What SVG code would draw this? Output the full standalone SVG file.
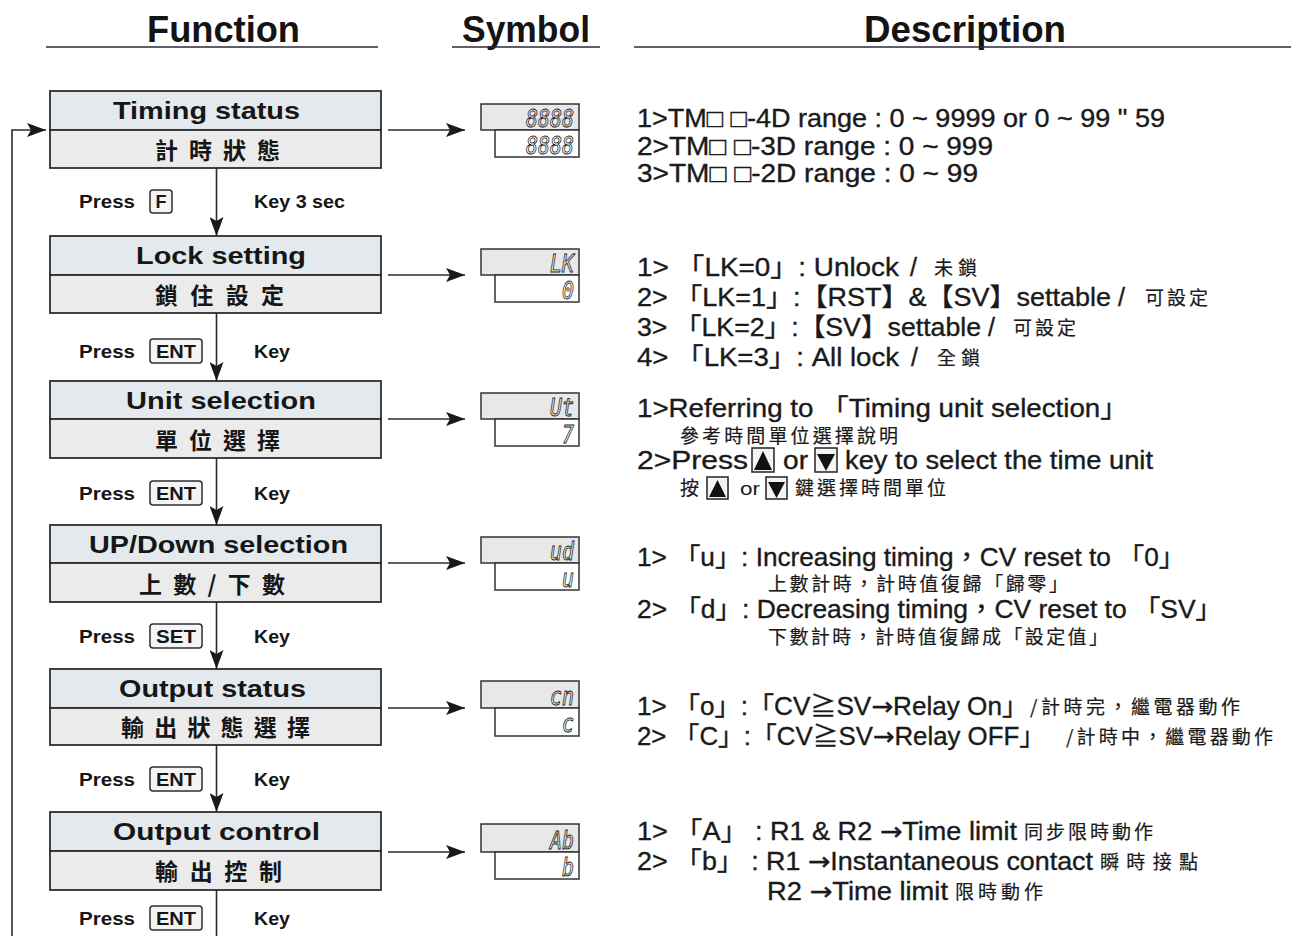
<svg xmlns="http://www.w3.org/2000/svg" width="1291" height="936" viewBox="0 0 1291 936">
<style>
.hdr{font-family:"Liberation Sans",Arial,sans-serif;font-weight:bold;font-size:36px;fill:#141414}
.hl{stroke:#2a2a3a;stroke-width:1.6}
.box{stroke:#2e2e2e;stroke-width:1.8}
.top{fill:#e4e9ee}
.bot{fill:#ebebeb}
.fn{font-family:"Liberation Sans",Arial,sans-serif;font-weight:bold;font-size:24px;fill:#161616}
.fc{font-family:"Noto Sans CJK TC","Noto Sans CJK SC",sans-serif;font-weight:bold;font-size:23px;fill:#161616}
.pr{font-family:"Liberation Sans",Arial,sans-serif;font-weight:bold;font-size:18px;fill:#161616}
.key{fill:#f4f4f4;stroke:#2e2e2e;stroke-width:1.5}
.conn{fill:none;stroke:#2a2a2a;stroke-width:1.6}
.sym1{fill:#e8e8e8;stroke:#333;stroke-width:1.5}
.sym2{fill:#ffffff;stroke:#333;stroke-width:1.5}
.seg{font-family:"DejaVu Sans Mono",monospace;font-style:oblique;font-size:25px;fill:none;stroke:#222;stroke-width:0.9;text-anchor:end}
.d{font-family:"Liberation Sans",Arial,"Noto Sans CJK TC",sans-serif;font-size:25px;fill:#1a1a1a;stroke:#1a1a1a;stroke-width:0.35}
.ar{font-family:"DejaVu Sans",sans-serif}
.c{font-family:"Noto Sans CJK TC","Noto Sans CJK SC",sans-serif;font-size:19px;fill:#1a1a1a;stroke:#1a1a1a;stroke-width:0.2}
.s{font-family:"Liberation Sans",Arial,sans-serif;font-size:19px;fill:#1a1a1a}
.ico{fill:#f4f4f4;stroke:#222;stroke-width:1.5}
.tri{fill:#111}
</style>
<defs>
<marker id="ah" markerUnits="userSpaceOnUse" markerWidth="20" markerHeight="14" refX="19" refY="7" orient="auto">
<path d="M0,0 L19,7 L0,14 L4,7 z" fill="#1a1a1a"/>
</marker>
</defs>
<rect width="1291" height="936" fill="#ffffff"/>

<g id="headers">
<text class="hdr" x="147" y="42" textLength="153" lengthAdjust="spacingAndGlyphs">Function</text>
<text class="hdr" x="462" y="42" textLength="128" lengthAdjust="spacingAndGlyphs">Symbol</text>
<text class="hdr" x="864" y="42" textLength="202" lengthAdjust="spacingAndGlyphs">Description</text>
<line class="hl" x1="46" y1="47" x2="378" y2="47"/>
<line class="hl" x1="452" y1="47" x2="600" y2="47"/>
<line class="hl" x1="634" y1="47" x2="1291" y2="47"/>
</g>

<g id="connectors">
<polyline class="conn" points="12,936 12,130 46,130" marker-end="url(#ah)"/>
<line class="conn" x1="216.5" y1="168" x2="216.5" y2="236" marker-end="url(#ah)"/>
<line class="conn" x1="216.5" y1="313" x2="216.5" y2="381" marker-end="url(#ah)"/>
<line class="conn" x1="216.5" y1="458" x2="216.5" y2="525" marker-end="url(#ah)"/>
<line class="conn" x1="216.5" y1="602" x2="216.5" y2="669" marker-end="url(#ah)"/>
<line class="conn" x1="216.5" y1="745" x2="216.5" y2="812" marker-end="url(#ah)"/>
<line class="conn" x1="216.5" y1="890" x2="216.5" y2="936"/>
<line class="conn" x1="388" y1="130" x2="465" y2="130" marker-end="url(#ah)"/>
<line class="conn" x1="388" y1="275" x2="465" y2="275" marker-end="url(#ah)"/>
<line class="conn" x1="388" y1="419" x2="465" y2="419" marker-end="url(#ah)"/>
<line class="conn" x1="388" y1="563" x2="465" y2="563" marker-end="url(#ah)"/>
<line class="conn" x1="388" y1="708" x2="465" y2="708" marker-end="url(#ah)"/>
<line class="conn" x1="388" y1="852" x2="465" y2="852" marker-end="url(#ah)"/>
</g>

<g id="node-timing-status">
<rect class="box top" x="50" y="91" width="331" height="39"/>
<rect class="box bot" x="50" y="130" width="331" height="38"/>
<text class="fn" x="113" y="119" textLength="187" lengthAdjust="spacingAndGlyphs">Timing status</text>
<text class="fc" x="155" y="159" textLength="125" lengthAdjust="spacing">計時狀態</text>
</g>
<g id="press-1">
<text class="pr" x="79" y="208" textLength="56" lengthAdjust="spacingAndGlyphs">Press</text>
<rect class="key" x="150" y="190" width="22" height="23" rx="3"/>
<text class="pr" x="161" y="208" text-anchor="middle">F</text>
<text class="pr" x="254" y="208" textLength="91" lengthAdjust="spacingAndGlyphs">Key 3 sec</text>
</g>

<g id="node-lock-setting">
<rect class="box top" x="50" y="236" width="331" height="39"/>
<rect class="box bot" x="50" y="275" width="331" height="38"/>
<text class="fn" x="136" y="264" textLength="170" lengthAdjust="spacingAndGlyphs">Lock setting</text>
<text class="fc" x="155" y="304" textLength="129" lengthAdjust="spacing">鎖住設定</text>
</g>
<g id="press-2">
<text class="pr" x="79" y="358" textLength="56" lengthAdjust="spacingAndGlyphs">Press</text>
<rect class="key" x="150" y="339" width="52" height="24" rx="3"/>
<text class="pr" x="156" y="358" textLength="40" lengthAdjust="spacingAndGlyphs">ENT</text>
<text class="pr" x="254" y="358" textLength="36" lengthAdjust="spacingAndGlyphs">Key</text>
</g>

<g id="node-unit-selection">
<rect class="box top" x="50" y="381" width="331" height="38"/>
<rect class="box bot" x="50" y="419" width="331" height="39"/>
<text class="fn" x="126" y="409" textLength="190" lengthAdjust="spacingAndGlyphs">Unit selection</text>
<text class="fc" x="155" y="449" textLength="125" lengthAdjust="spacing">單位選擇</text>
</g>
<g id="press-3">
<text class="pr" x="79" y="500" textLength="56" lengthAdjust="spacingAndGlyphs">Press</text>
<rect class="key" x="150" y="481" width="52" height="24" rx="3"/>
<text class="pr" x="156" y="500" textLength="40" lengthAdjust="spacingAndGlyphs">ENT</text>
<text class="pr" x="254" y="500" textLength="36" lengthAdjust="spacingAndGlyphs">Key</text>
</g>

<g id="node-updown-selection">
<rect class="box top" x="50" y="525" width="331" height="38"/>
<rect class="box bot" x="50" y="563" width="331" height="39"/>
<text class="fn" x="89" y="553" textLength="259" lengthAdjust="spacingAndGlyphs">UP/Down selection</text>
<text class="fc" x="139" y="593" textLength="146" lengthAdjust="spacing">上數/下數</text>
</g>
<g id="press-4">
<text class="pr" x="79" y="643" textLength="56" lengthAdjust="spacingAndGlyphs">Press</text>
<rect class="key" x="150" y="624" width="52" height="24" rx="3"/>
<text class="pr" x="156" y="643" textLength="40" lengthAdjust="spacingAndGlyphs">SET</text>
<text class="pr" x="254" y="643" textLength="36" lengthAdjust="spacingAndGlyphs">Key</text>
</g>

<g id="node-output-status">
<rect class="box top" x="50" y="669" width="331" height="39"/>
<rect class="box bot" x="50" y="708" width="331" height="37"/>
<text class="fn" x="119" y="697" textLength="187" lengthAdjust="spacingAndGlyphs">Output status</text>
<text class="fc" x="121" y="736" textLength="189" lengthAdjust="spacing">輸出狀態選擇</text>
</g>
<g id="press-5">
<text class="pr" x="79" y="786" textLength="56" lengthAdjust="spacingAndGlyphs">Press</text>
<rect class="key" x="150" y="767" width="52" height="24" rx="3"/>
<text class="pr" x="156" y="786" textLength="40" lengthAdjust="spacingAndGlyphs">ENT</text>
<text class="pr" x="254" y="786" textLength="36" lengthAdjust="spacingAndGlyphs">Key</text>
</g>

<g id="node-output-control">
<rect class="box top" x="50" y="812" width="331" height="39"/>
<rect class="box bot" x="50" y="851" width="331" height="39"/>
<text class="fn" x="113" y="840" textLength="207" lengthAdjust="spacingAndGlyphs">Output  control</text>
<text class="fc" x="155" y="880" textLength="127" lengthAdjust="spacing">輸出控制</text>
</g>
<g id="press-6">
<text class="pr" x="79" y="925" textLength="56" lengthAdjust="spacingAndGlyphs">Press</text>
<rect class="key" x="150" y="906" width="52" height="24" rx="3"/>
<text class="pr" x="156" y="925" textLength="40" lengthAdjust="spacingAndGlyphs">ENT</text>
<text class="pr" x="254" y="925" textLength="36" lengthAdjust="spacingAndGlyphs">Key</text>
</g>

<g id="symbol-1">
<rect class="sym1" x="481" y="104" width="98" height="26"/>
<rect class="sym2" x="495" y="130" width="84" height="27"/>
<text class="seg" x="574" y="127" textLength="48" lengthAdjust="spacingAndGlyphs">8888</text>
<text class="seg" x="574" y="154" textLength="48" lengthAdjust="spacingAndGlyphs">8888</text>
</g>
<g id="symbol-2">
<rect class="sym1" x="481" y="249" width="98" height="26"/>
<rect class="sym2" x="495" y="275" width="84" height="27"/>
<text class="seg" x="574" y="272" textLength="24" lengthAdjust="spacingAndGlyphs">LK</text>
<text class="seg" x="574" y="299" textLength="12" lengthAdjust="spacingAndGlyphs">0</text>
</g>
<g id="symbol-3">
<rect class="sym1" x="481" y="393" width="98" height="26"/>
<rect class="sym2" x="495" y="419" width="84" height="27"/>
<text class="seg" x="574" y="416" textLength="24" lengthAdjust="spacingAndGlyphs">Ut</text>
<text class="seg" x="574" y="443" textLength="12" lengthAdjust="spacingAndGlyphs">7</text>
</g>
<g id="symbol-4">
<rect class="sym1" x="481" y="537" width="98" height="26"/>
<rect class="sym2" x="495" y="563" width="84" height="27"/>
<text class="seg" x="574" y="560" textLength="24" lengthAdjust="spacingAndGlyphs">ud</text>
<text class="seg" x="574" y="587" textLength="12" lengthAdjust="spacingAndGlyphs">u</text>
</g>
<g id="symbol-5">
<rect class="sym1" x="481" y="681" width="98" height="27"/>
<rect class="sym2" x="495" y="708" width="84" height="28"/>
<text class="seg" x="574" y="705" textLength="24" lengthAdjust="spacingAndGlyphs">cn</text>
<text class="seg" x="574" y="732" textLength="12" lengthAdjust="spacingAndGlyphs">c</text>
</g>
<g id="symbol-6">
<rect class="sym1" x="481" y="824" width="98" height="28"/>
<rect class="sym2" x="495" y="852" width="84" height="27"/>
<text class="seg" x="574" y="849" textLength="24" lengthAdjust="spacingAndGlyphs">Ab</text>
<text class="seg" x="574" y="876" textLength="12" lengthAdjust="spacingAndGlyphs">b</text>
</g>

<g id="desc-1">
<text class="d" x="637" y="127" textLength="528" lengthAdjust="spacingAndGlyphs">1&gt;TM□ □-4D range : 0 ~ 9999 or 0 ~ 99 " 59</text>
<text class="d" x="637" y="154.5" textLength="356" lengthAdjust="spacingAndGlyphs">2&gt;TM□ □-3D range : 0 ~ 999</text>
<text class="d" x="637" y="182" textLength="341" lengthAdjust="spacingAndGlyphs">3&gt;TM□ □-2D range : 0 ~ 99</text>
</g>

<g id="desc-2">
<text class="d" x="637" y="276" textLength="262" lengthAdjust="spacingAndGlyphs">1&gt; 「LK=0」: Unlock</text>
<text class="d" x="910" y="276">/</text>
<text class="c" x="934" y="275" textLength="43" lengthAdjust="spacing">未鎖</text>
<text class="d" x="637" y="306" textLength="474" lengthAdjust="spacingAndGlyphs">2&gt; 「LK=1」:【RST】&amp;【SV】settable</text>
<text class="d" x="1118" y="306">/</text>
<text class="c" x="1145" y="305" textLength="63" lengthAdjust="spacing">可設定</text>
<text class="d" x="637" y="336" textLength="344" lengthAdjust="spacingAndGlyphs">3&gt; 「LK=2」:【SV】settable</text>
<text class="d" x="988" y="336">/</text>
<text class="c" x="1013" y="335" textLength="63" lengthAdjust="spacing">可設定</text>
<text class="d" x="637" y="366" textLength="262" lengthAdjust="spacingAndGlyphs">4&gt; 「LK=3」: All lock</text>
<text class="d" x="911" y="366">/</text>
<text class="c" x="937" y="365" textLength="43" lengthAdjust="spacing">全鎖</text>
</g>

<g id="desc-3">
<text class="d" x="637" y="417" textLength="491" lengthAdjust="spacingAndGlyphs">1&gt;Referring to 「Timing unit selection」</text>
<text class="c" x="680" y="443" textLength="218" lengthAdjust="spacing">參考時間單位選擇說明</text>
<text class="d" x="637" y="469" textLength="111" lengthAdjust="spacingAndGlyphs">2&gt;Press</text>
<rect class="ico" x="752" y="448" width="22" height="24"/>
<polygon class="tri" points="754,470 763,451 772,470"/>
<text class="d" x="783" y="469" textLength="25" lengthAdjust="spacingAndGlyphs">or</text>
<rect class="ico" x="815" y="448" width="22" height="24"/>
<polygon class="tri" points="817,454 835,454 826,471"/>
<text class="d" x="845" y="469" textLength="308" lengthAdjust="spacingAndGlyphs">key to select the time unit</text>
<text class="c" x="680" y="495">按</text>
<rect class="ico" x="707" y="477" width="21" height="22"/>
<polygon class="tri" points="709,497 717.5,480 726,497"/>
<text class="s" x="740" y="495" textLength="20" lengthAdjust="spacingAndGlyphs">or</text>
<rect class="ico" x="766" y="477" width="21" height="22"/>
<polygon class="tri" points="768,482 785,482 776.5,498"/>
<text class="c" x="795" y="495" textLength="151" lengthAdjust="spacing">鍵選擇時間單位</text>
</g>

<g id="desc-4">
<text class="d" x="637" y="566" textLength="548" lengthAdjust="spacingAndGlyphs">1&gt; 「u」: Increasing timing，CV reset to 「0」</text>
<text class="c" x="768" y="591" textLength="300" lengthAdjust="spacing">上數計時，計時值復歸「歸零」</text>
<text class="d" x="637" y="618" textLength="585" lengthAdjust="spacingAndGlyphs">2&gt; 「d」: Decreasing timing，CV reset to 「SV」</text>
<text class="c" x="768" y="644" textLength="340" lengthAdjust="spacing">下數計時，計時值復歸成「設定值」</text>
</g>

<g id="desc-5">
<text class="d" x="637" y="715" textLength="391" lengthAdjust="spacingAndGlyphs">1&gt; 「o」:「CV≧SV<tspan class="ar">→</tspan>Relay On」</text>
<text class="c" x="1030" y="714" textLength="210" lengthAdjust="spacing">/計時完，繼電器動作</text>
<text class="d" x="637" y="745" textLength="408" lengthAdjust="spacingAndGlyphs">2&gt; 「C」:「CV≧SV<tspan class="ar">→</tspan>Relay OFF」</text>
<text class="c" x="1066" y="744" textLength="207" lengthAdjust="spacing">/計時中，繼電器動作</text>
</g>

<g id="desc-6">
<text class="d" x="637" y="840" textLength="380" lengthAdjust="spacingAndGlyphs">1&gt; 「A」 : R1 &amp; R2 <tspan class="ar">→</tspan>Time limit</text>
<text class="c" x="1024" y="839" textLength="129" lengthAdjust="spacing">同步限時動作</text>
<text class="d" x="637" y="870" textLength="456" lengthAdjust="spacingAndGlyphs">2&gt; 「b」 : R1 <tspan class="ar">→</tspan>Instantaneous contact</text>
<text class="c" x="1100" y="869" textLength="98" lengthAdjust="spacing">瞬時接點</text>
<text class="d" x="767" y="900" textLength="181" lengthAdjust="spacingAndGlyphs">R2 <tspan class="ar">→</tspan>Time limit</text>
<text class="c" x="955" y="899" textLength="88" lengthAdjust="spacing">限時動作</text>
</g>
</svg>
